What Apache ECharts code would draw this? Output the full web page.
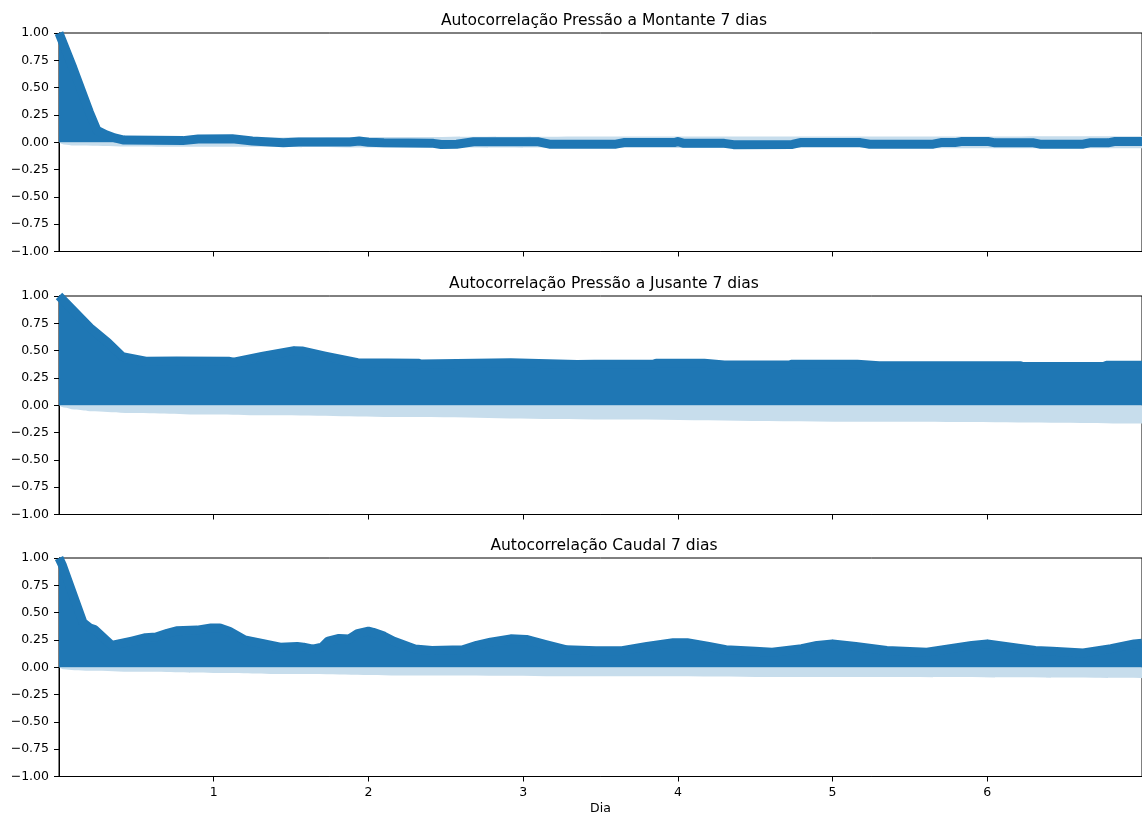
<!DOCTYPE html>
<html>
<head>
<meta charset="utf-8">
<script src="https://cdn.jsdelivr.net/npm/echarts@6/dist/echarts.min.js"></script>
<style>
  html, body { margin: 0; padding: 0; background: #ffffff; }
  #chart { width: 1142px; height: 817px; }
</style>
</head>
<body>
<div id="chart"></div>
<script>
// Panel titles
const titles = [
  'Autocorrelação Pressão a Montante 7 dias',
  'Autocorrelação Pressão a Jusante 7 dias',
  'Autocorrelação Caudal 7 dias'
];
const xAxisName = 'Dia';
const xTicks = [1, 2, 3, 4, 5, 6];
const yTicks = [-1, -0.75, -0.5, -0.25, 0, 0.25, 0.5, 0.75, 1];

// Pressão a Montante: autocorrelation by lag (days)
const montanteDias = [0, 0.09, 0.14, 0.195, 0.245, 0.3, 0.36, 0.42, 0.8, 0.9, 1.12, 1.25, 1.45, 1.55, 1.88, 1.94, 2.0, 2.1, 2.42, 2.47, 2.57, 2.68, 3.1, 3.17, 3.6, 3.65, 3.98, 4.0, 4.04, 4.3, 4.36, 4.74, 4.79, 5.18, 5.24, 5.65, 5.7, 5.79, 5.83, 6.01, 6.05, 6.3, 6.34, 6.62, 6.66, 6.78, 6.82, 7.0];
const montanteAcf  = [1.0, 0.68, 0.49, 0.28, 0.11, 0.07, 0.04, 0.02, 0.015, 0.03, 0.032, 0.012, -0.005, 0.003, 0.003, 0.012, 0.0, -0.005, -0.01, -0.02, -0.018, 0.004, 0.004, -0.018, -0.018, -0.003, -0.003, 0.006, -0.01, -0.01, -0.022, -0.02, -0.003, -0.003, -0.018, -0.018, -0.003, -0.003, 0.006, 0.006, -0.005, -0.005, -0.018, -0.018, -0.005, -0.005, 0.006, 0.006];
// Pressão a Montante: 95% confidence half-width
const montanteConfDias = [0, 0.03, 0.1, 0.4, 1, 2, 4, 7];
const montanteConf     = [0, 0.02, 0.03, 0.038, 0.042, 0.048, 0.052, 0.055];

// Pressão a Jusante
const jusanteDias = [0, 0.2, 0.315, 0.41, 0.56, 0.76, 1.095, 1.13, 1.32, 1.52, 1.57, 1.72, 1.93, 2.32, 2.34, 2.92, 3.1, 3.35, 3.46, 3.84, 3.86, 4.17, 4.3, 4.72, 4.74, 5.16, 5.3, 6.21, 6.23, 6.75, 6.77, 7.0];
const jusanteAcf  = [1.0, 0.71, 0.575, 0.445, 0.403, 0.405, 0.403, 0.395, 0.45, 0.5, 0.497, 0.45, 0.39, 0.385, 0.377, 0.39, 0.382, 0.372, 0.376, 0.376, 0.385, 0.385, 0.368, 0.368, 0.376, 0.376, 0.362, 0.362, 0.354, 0.354, 0.365, 0.365];
const jusanteConfDias = [0, 0.03, 0.1, 0.2, 0.43, 1.0, 1.32, 2.23, 3.46, 5.13, 7];
const jusanteConf     = [0, 0.02, 0.04, 0.055, 0.07, 0.085, 0.092, 0.108, 0.13, 0.15, 0.168];

// Caudal
const caudalDias = [0, 0.02, 0.155, 0.2, 0.23, 0.34, 0.471, 0.56, 0.627, 0.7, 0.76, 0.894, 0.983, 1.04, 1.1, 1.2, 1.32, 1.43, 1.54, 1.58, 1.64, 1.7, 1.74, 1.81, 1.875, 1.93, 2.0, 2.03, 2.1, 2.16, 2.3, 2.41, 2.61, 2.7, 2.79, 2.92, 3.02, 3.14, 3.28, 3.47, 3.63, 3.8, 3.97, 4.06, 4.2, 4.31, 4.5, 4.61, 4.8, 4.9, 5.0, 5.15, 5.35, 5.61, 5.76, 5.9, 6.0, 6.2, 6.31, 6.42, 6.62, 6.8, 6.95, 7.0];
const caudalAcf  = [1.0, 0.94, 0.41, 0.36, 0.345, 0.2, 0.24, 0.27, 0.277, 0.31, 0.333, 0.34, 0.36, 0.36, 0.33, 0.25, 0.215, 0.184, 0.19, 0.184, 0.165, 0.184, 0.24, 0.264, 0.258, 0.308, 0.33, 0.32, 0.285, 0.24, 0.168, 0.153, 0.16, 0.2, 0.23, 0.26, 0.255, 0.21, 0.16, 0.15, 0.15, 0.19, 0.224, 0.224, 0.19, 0.16, 0.147, 0.138, 0.17, 0.2, 0.214, 0.19, 0.153, 0.138, 0.17, 0.2, 0.214, 0.174, 0.153, 0.146, 0.13, 0.17, 0.214, 0.22];
const caudalConfDias = [0, 0.03, 0.1, 0.2, 0.5, 1.0, 1.5, 2.2, 3.5, 5, 7];
const caudalConf     = [0, 0.018, 0.027, 0.032, 0.042, 0.052, 0.062, 0.075, 0.082, 0.09, 0.1];

const panels = [
  { dias: montanteDias, acf: montanteAcf, confDias: montanteConfDias, conf: montanteConf },
  { dias: jusanteDias, acf: jusanteAcf, confDias: jusanteConfDias, conf: jusanteConf },
  { dias: caudalDias, acf: caudalAcf, confDias: caudalConfDias, conf: caudalConf }
];

const BLUE = '#1f77b4';
const BAND = '#c7ddec';
const FONT = 'DejaVu Sans';
const gridTops = [33, 296, 558];
const gridH = 218.5;
const gridLeft = 59;
const gridW = 1090;

const zip = (xs, ys, sign) => xs.map((x, i) => [x, sign * ys[i]]);
const fmtY = v => (v < 0 ? '\u2212' : '') + Math.abs(v).toFixed(2);

const option = {
  animation: false,
  backgroundColor: '#ffffff',
  textStyle: { fontFamily: FONT },
  title: titles.map((t, i) => ({
    text: t,
    left: gridLeft + gridW / 2,
    top: gridTops[i] - 20,
    padding: 0,
    textAlign: 'center',
    textStyle: { fontFamily: FONT, fontSize: 15.5, fontWeight: 'normal', color: '#000' }
  })),
  grid: gridTops.map(t => ({
    left: gridLeft, top: t, width: gridW, height: gridH,
    show: true, borderColor: '#000', borderWidth: 1, backgroundColor: 'transparent'
  })),
  xAxis: gridTops.map((t, i) => ({
    type: 'value', gridIndex: i, min: 0, max: 7, interval: 1,
    name: i === 2 ? xAxisName : '',
    nameLocation: 'middle', nameGap: 26,
    nameTextStyle: { fontFamily: FONT, fontSize: 12.5, color: '#000' },
    splitLine: { show: false },
    axisLine: { show: true, onZero: false, lineStyle: { color: '#000', width: 1 } },
    axisTick: { show: true, customValues: xTicks, length: 5, lineStyle: { color: '#000' } },
    axisLabel: {
      show: i === 2, customValues: xTicks, margin: 10,
      fontFamily: FONT, fontSize: 12.5, color: '#000'
    }
  })),
  yAxis: gridTops.map((t, i) => ({
    type: 'value', gridIndex: i, min: -1, max: 1, interval: 0.25,
    splitLine: { show: false },
    axisLine: { show: true, lineStyle: { color: '#000', width: 1 } },
    axisTick: { show: true, length: 5, lineStyle: { color: '#000' } },
    axisLabel: {
      margin: 10, fontFamily: FONT, fontSize: 12.5, color: '#000',
      formatter: fmtY, customValues: yTicks
    }
  })),
  series: []
};

panels.forEach((p, i) => {
  // confidence band, upper and lower halves
  [1, -1].forEach(sign => {
    option.series.push({
      type: 'line', xAxisIndex: i, yAxisIndex: i,
      data: zip(p.confDias, p.conf, sign),
      symbol: 'none', smooth: 0.4, smoothMonotone: 'x',
      lineStyle: { width: 0 },
      areaStyle: { color: BAND, opacity: 1, origin: 0 },
      z: 1
    });
  });
  // autocorrelation stems and markers
  option.series.push({
    type: 'line', xAxisIndex: i, yAxisIndex: i,
    data: zip(p.dias, p.acf, 1),
    symbol: 'none',
    lineStyle: { color: BLUE, width: 9, join: 'round', cap: 'butt' },
    areaStyle: { color: BLUE, opacity: 1, origin: 0 },
    z: 2
  });
});

const chart = echarts.init(document.getElementById('chart'), null, { renderer: 'canvas' });
chart.setOption(option);
</script>
</body>
</html>
